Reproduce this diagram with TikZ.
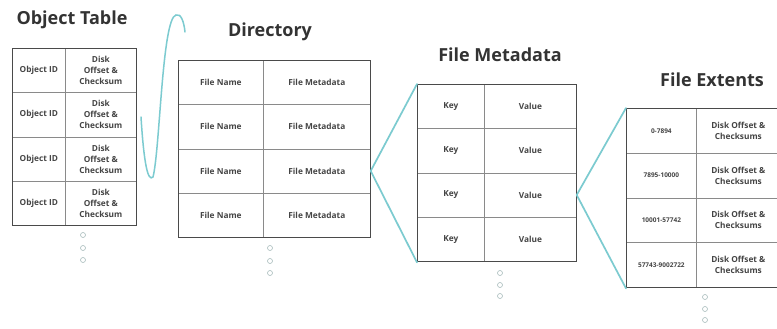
\documentclass[tikz,border=0pt]{standalone}
\usepackage{fontspec}
\setmainfont{Open Sans}
\definecolor{cellline}{HTML}{8A8A8A}
\definecolor{frameline}{HTML}{4A4A4A}
\definecolor{celltext}{HTML}{454545}
\definecolor{titletext}{HTML}{333333}
\definecolor{linkteal}{HTML}{7CCBD0}
\definecolor{dotgray}{HTML}{A8BCBC}
\begin{document}
\begin{tikzpicture}[x=1pt,y=-1pt,
 cell/.style={draw=cellline, line width=0.7pt, inner sep=0pt, anchor=north west, align=center, font=\fontsize{8.3}{11}\selectfont\bfseries, text=celltext},
 frame/.style={draw=frameline, line width=1.4pt, inner sep=0pt, anchor=north west},
 title/.style={font=\fontsize{18}{20}\selectfont\bfseries, text=titletext},
 link/.style={draw=linkteal, line width=1.7pt, line cap=round},
 dotc/.style={circle, draw=dotgray, line width=0.6pt, minimum size=5pt, inner sep=0pt},
]
\useasboundingbox[fill=white] (0,0) rectangle (777,329);
% titles
\node[title] (t-ot) at (72,20) {Object Table};
\node[title] (t-dir) at (270,32) {Directory};
\node[title] (t-meta) at (500,55) {File Metadata};
\node[title] (t-ext) at (712,80) {File Extents};
% object table
\foreach \i in {1,...,4} {
 \node[cell, minimum width=53pt, minimum height=44.25pt] (ot-\i-a) at (12,{48+(\i-1)*44.25}) {Object ID};
 \node[cell, minimum width=71pt, minimum height=44.25pt] (ot-\i-b) at (65,{48+(\i-1)*44.25}) {Disk\\Offset \&\\Checksum};
}
\node[frame, minimum width=124pt, minimum height=177pt] (ot) at (12,48) {};
% directory
\foreach \i in {1,...,4} {
 \node[cell, minimum width=85pt, minimum height=44.25pt] (dir-\i-a) at (178,{60+(\i-1)*44.25}) {File Name};
 \node[cell, minimum width=107pt, minimum height=44.25pt] (dir-\i-b) at (263,{60+(\i-1)*44.25}) {File Metadata};
}
\node[frame, minimum width=192pt, minimum height=177pt] (dir) at (178,60) {};
% metadata
\foreach \i in {1,...,4} {
 \node[cell, minimum width=67pt, minimum height=44.25pt] (meta-\i-a) at (417,{84+(\i-1)*44.25}) {Key};
 \node[cell, minimum width=92pt, minimum height=44.25pt] (meta-\i-b) at (484,{84+(\i-1)*44.25}) {Value};
}
\node[frame, minimum width=159pt, minimum height=177pt] (meta) at (417,84) {};
% extents
\foreach \i/\lab in {1/0-7894, 2/7895-10000, 3/10001-57742, 4/57743-9002722} {
 \node[cell, minimum width=70pt, minimum height=44.75pt, font=\fontsize{6.5}{8}\selectfont\bfseries] (ext-\i-a) at (626,{108+(\i-1)*44.75}) {\lab};
 \node[cell, minimum width=84pt, minimum height=44.75pt] (ext-\i-b) at (696,{108+(\i-1)*44.75}) {Disk Offset \&\\Checksums};
}
\node[frame, minimum width=154pt, minimum height=179pt] (ext) at (626,108) {};
% connectors
\draw[link] (dir-3-b.east) -- (meta.north west);
\draw[link] (dir-3-b.east) -- (meta.south west);
\draw[link] (meta-3-b.east) -- (ext.north west);
\draw[link] (meta-3-b.east) -- (ext.south west);
% curve
\coordinate (cs) at (141,117);
\coordinate (cb) at (153,177);
\coordinate (ct) at (176,15);
\coordinate (ce) at (185,32);
\draw[link, line width=1.5pt] (cs) .. controls (144,165) and (148,182) .. (cb) .. controls (160,150) and (162,18) .. (ct) .. controls (181,13) and (184,22) .. (ce);
% dots
\foreach \n/\x/\ya/\yb/\yc in {ot/83/235/248/260, dir/270/248/261/273, meta/500/273/285/296, ext/705/297/309/320} {
 \node[dotc] (\n-d1) at (\x,\ya) {};
 \node[dotc] (\n-d2) at (\x,\yb) {};
 \node[dotc] (\n-d3) at (\x,\yc) {};
}
\end{tikzpicture}
\end{document}
